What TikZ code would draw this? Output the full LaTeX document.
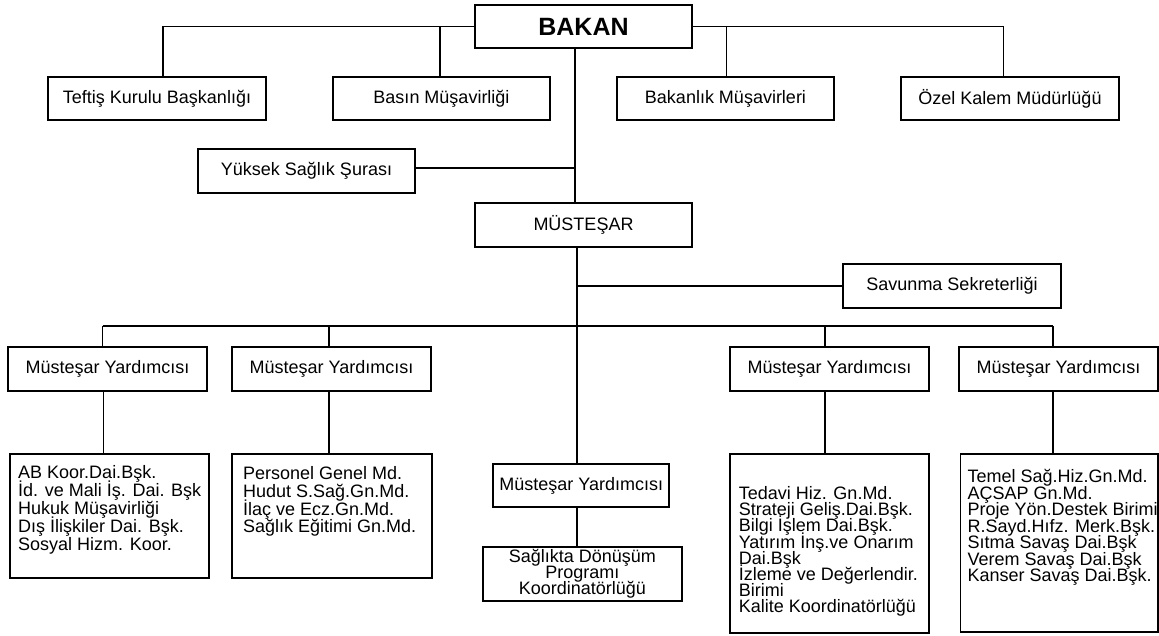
\documentclass[tikz,border=0pt]{standalone}
\usepackage{fontspec}
\setmainfont{Liberation Sans}
\usetikzlibrary{calc}
\newcommand\mytightlines{\lineskiplimit=-20pt\relax}
\begin{document}
\begin{tikzpicture}[x=1pt,y=-1pt,
  conn/.style={draw=black, line width=1.7pt},
  box/.style={draw=black, line width=1.8pt, inner sep=0pt, align=center,
              font=\fontsize{18}{18}\selectfont},
  listtext/.style={anchor=north west, inner sep=0pt, align=left}]
\useasboundingbox (0,0) rectangle (1159,635);
\fill[white] (0,0) rectangle (1159,635);

% top level
\node[box, minimum width=217, minimum height=43, font=\fontsize{25}{25}\selectfont\bfseries] (bakan) at (583.5,26.5) {BAKAN};
\node[box, minimum width=218, minimum height=43] (teftis) at (157,98.5) {Teftiş Kurulu Başkanlığı};
\node[box, minimum width=217, minimum height=43] (basin) at (441.5,98.5) {Basın Müşavirliği};
\node[box, minimum width=217, minimum height=43] (bakanlik) at (725.5,98.5) {Bakanlık Müşavirleri};
\node[box, minimum width=218, minimum height=43] (ozel) at (1010,98.5) {Özel Kalem Müdürlüğü};
\node[box, minimum width=217, minimum height=44] (yuksek) at (306.5,171) {Yüksek Sağlık Şurası};
\node[box, minimum width=217, minimum height=44] (mustesar) at (583.5,225) {MÜSTEŞAR};
\node[box, minimum width=218, minimum height=44] (savunma) at (952,286) {Savunma Sekreterliği};

% deputies
\node[box, minimum width=199, minimum height=44] (my1) at (107.5,369) {Müsteşar Yardımcısı};
\node[box, minimum width=199, minimum height=44] (my2) at (331.5,369) {Müsteşar Yardımcısı};
\node[box, minimum width=199, minimum height=44] (my4) at (829.5,369) {Müsteşar Yardımcısı};
\node[box, minimum width=199, minimum height=44] (my5) at (1058.5,369) {Müsteşar Yardımcısı};
\node[box, minimum width=176, minimum height=43] (my3) at (581.3,485.7) {Müsteşar Yardımcısı};
\node[box, minimum width=198.5, minimum height=53.5, font=\fontsize{18}{16}\selectfont\mytightlines] (sdp) at (582.4,574) {Sağlıkta Dönüşüm\\Programı\\Koordinatörlüğü};

% units
\node[box, minimum width=199, minimum height=124] (ab) at (109.5,516) {};
\node[listtext, font=\fontsize{18}{18}\selectfont\mytightlines] (abt) at (18,465.5) {AB Koor.Dai.Bşk.\\İd. ve Mali İş. Dai. Bşk\\Hukuk Müşavirliği\\Dış İlişkiler Dai. Bşk.\\Sosyal Hizm. Koor.};
\node[box, minimum width=200, minimum height=124] (personel) at (332,516) {};
\node[listtext, font=\fontsize{18}{17.7}\selectfont\mytightlines] (pert) at (243,466.5) {Personel Genel Md.\\Hudut S.Sağ.Gn.Md.\\İlaç ve Ecz.Gn.Md.\\Sağlık Eğitimi Gn.Md.};
\node[box, minimum width=199, minimum height=178.7] (tedavi) at (829.5,543.3) {};
\node[listtext, font=\fontsize{18}{16.1}\selectfont\mytightlines] (tedt) at (738.6,486.5) {Tedavi Hiz. Gn.Md.\\Strateji Geliş.Dai.Bşk.\\Bilgi İşlem Dai.Bşk.\\Yatırım İnş.ve Onarım\\Dai.Bşk\\İzleme ve Değerlendir.\\Birimi\\Kalite Koordinatörlüğü};
\node[box, minimum width=197.5, minimum height=178] (temel) at (1059.25,543) {};
\node[listtext, font=\fontsize{18}{16.5}\selectfont\mytightlines] (temt) at (967.3,469.5) {Temel Sağ.Hiz.Gn.Md.\\AÇSAP Gn.Md.\\Proje Yön.Destek Birimi\\R.Sayd.Hıfz. Merk.Bşk.\\Sıtma Savaş Dai.Bşk\\Verem Savaş Dai.Bşk\\Kanser Savaş Dai.Bşk.};

% connector points
\coordinate (cTef) at (163,77);
\coordinate (cBas) at (440.2,77);
\coordinate (cBak) at (726.6,77);
\coordinate (cOz)  at (1003.6,77);
\coordinate (tr1)  at (575,48.3);
\coordinate (cY)   at (415,168);
\coordinate (tr2)  at (577,247);
\coordinate (h1)   at (102.5,326);
\coordinate (h2)   at (329.3,326);
\coordinate (h4)   at (824.8,326);
\coordinate (h5)   at (1053,326);
\coordinate (v1)   at (103.4,391);
\coordinate (v2)   at (329.3,391);
\coordinate (v3)   at (577,507.2);
\coordinate (v4)   at (825.3,391);
\coordinate (v5)   at (1053,391);

% connectors
\draw[conn] (bakan.west) -| (cTef);
\draw[conn] (cBas) -- (cBas |- bakan.west);
\draw[conn] (bakan.east) -| (cOz);
\draw[conn] (cBak) -- (cBak |- bakan.east);
\draw[conn] (tr1) -- (tr1 |- mustesar.north);
\draw[conn] (cY) -- (cY -| tr1);
\draw[conn] (tr2) -- (tr2 |- my3.north);
\draw[conn] (savunma.west) -- (savunma.west -| tr2);
\draw[conn] (h1) -- (h5);
\draw[conn] (h1) -- (h1 |- my1.north);
\draw[conn] (h2) -- (h2 |- my2.north);
\draw[conn] (h4) -- (h4 |- my4.north);
\draw[conn] (h5) -- (h5 |- my5.north);
\draw[conn] (v1) -- (v1 |- ab.north);
\draw[conn] (v2) -- (v2 |- personel.north);
\draw[conn] (v3) -- (v3 |- sdp.north);
\draw[conn] (v4) -- (v4 |- tedavi.north);
\draw[conn] (v5) -- (v5 |- temel.north);
\end{tikzpicture}
\end{document}
